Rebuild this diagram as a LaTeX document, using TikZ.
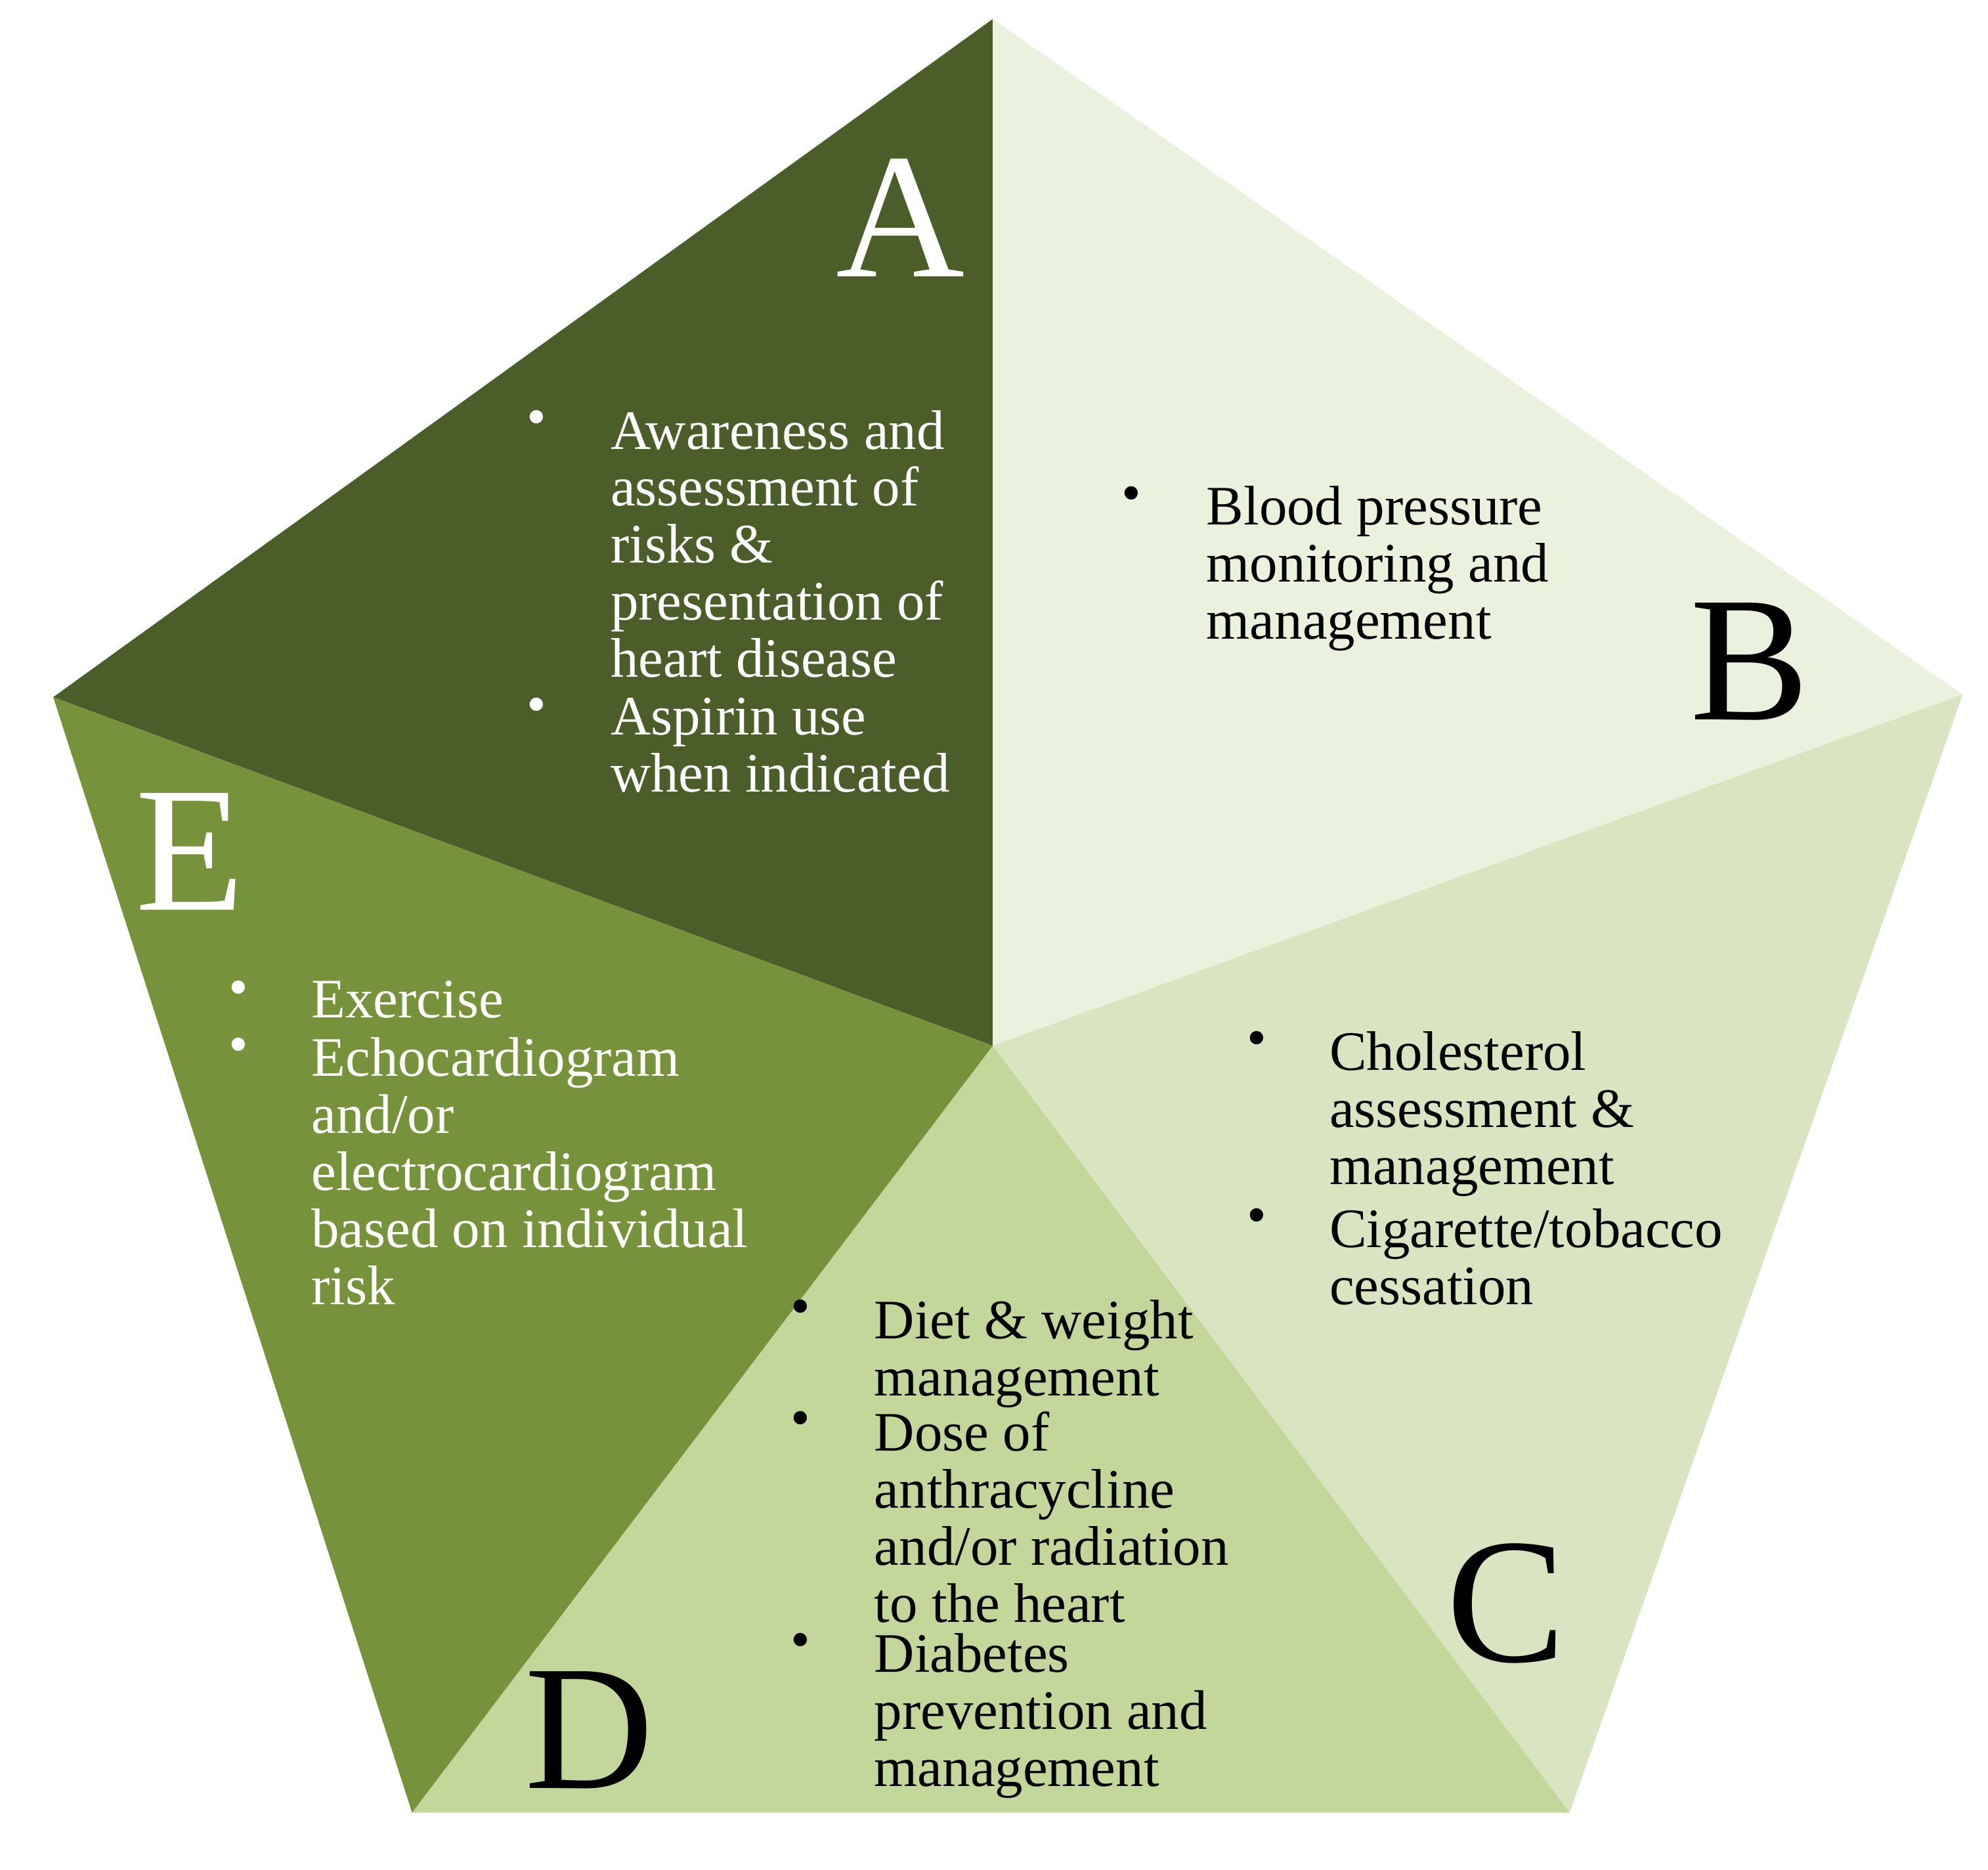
\documentclass[tikz,border=0pt]{standalone}
\usepackage{fontspec}
\setmainfont{Liberation Serif}
\usetikzlibrary{calc}
\definecolor{colA}{HTML}{4B5E2A}
\definecolor{colB}{HTML}{EAF1DD}
\definecolor{colC}{HTML}{D9E4C1}
\definecolor{colD}{HTML}{C4D79B}
\definecolor{colE}{HTML}{76933C}
\begin{document}
\begin{tikzpicture}[x=0.01cm,y=-0.01cm,
  item/.style={anchor=north west,align=left,inner sep=0pt,font=\fontsize{12.5}{12.8}\selectfont},
  letter/.style={font=\fontsize{40}{40}\selectfont,inner sep=0pt}]
\useasboundingbox (0,0) rectangle (1568,1475);
\coordinate (ctr) at (783,825);
\coordinate (pA) at (783,15);
\coordinate (pB) at (1548,548);
\coordinate (pC) at (1238,1430);
\coordinate (pD) at (325,1430);
\coordinate (pE) at (42,550);
\fill[colA] (ctr) -- (pE) -- (pA) -- cycle;
\fill[colB] (ctr) -- (pA) -- (pB) -- cycle;
\fill[colC] (ctr) -- (pB) -- (pC) -- cycle;
\fill[colD] (ctr) -- (pC) -- (pD) -- cycle;
\fill[colE] (ctr) -- (pD) -- (pE) -- cycle;
% letters
\node[letter,white] (lA) at (710,172) {A};
\node[letter] (lB) at (1380,522) {B};
\node[letter] (lC) at (1188,1265) {C};
\node[letter] (lD) at (465,1365) {D};
\node[letter,white] (lE) at (150,672) {E};
% A
\node[item,white] (a1) at (481,323) {Awareness and\\assessment of\\risks \&\\presentation of\\heart disease};
\node[item,white] (a2) at (481,550) {Aspirin use\\when indicated};
\node[item,white] (ba1) at (415,323) {\textbullet};
\node[item,white] (ba2) at (415,550) {\textbullet};
% B
\node[item] (b1) at (951,383) {Blood pressure\\monitoring and\\management};
\node[item] (bb1) at (884,383) {\textbullet};
% C
\node[item] (c1) at (1048,813) {Cholesterol\\assessment \&\\management};
\node[item] (c2) at (1048,953) {Cigarette/tobacco\\cessation};
\node[item] (bc1) at (983,813) {\textbullet};
\node[item] (bc2) at (983,953) {\textbullet};
% D
\node[item] (d1) at (689,1025) {Diet \& weight\\management};
\node[item] (d2) at (689,1113) {Dose of\\anthracycline\\and/or radiation\\to the heart};
\node[item] (d3) at (689,1288) {Diabetes\\prevention and\\management};
\foreach \n in {1,2,3}
  \node[item] (bd\n) at ($(d\n.north west)+(-66,0)$) {\textbullet};
% E
\node[item,white] (e1) at (245,773) {Exercise};
\node[item,white] (e2) at (245,818) {Echocardiogram\\and/or\\electrocardiogram\\based on individual\\risk};
\node[item,white] (be1) at (180,773) {\textbullet};
\node[item,white] (be2) at (180,818) {\textbullet};
\end{tikzpicture}
\end{document}
